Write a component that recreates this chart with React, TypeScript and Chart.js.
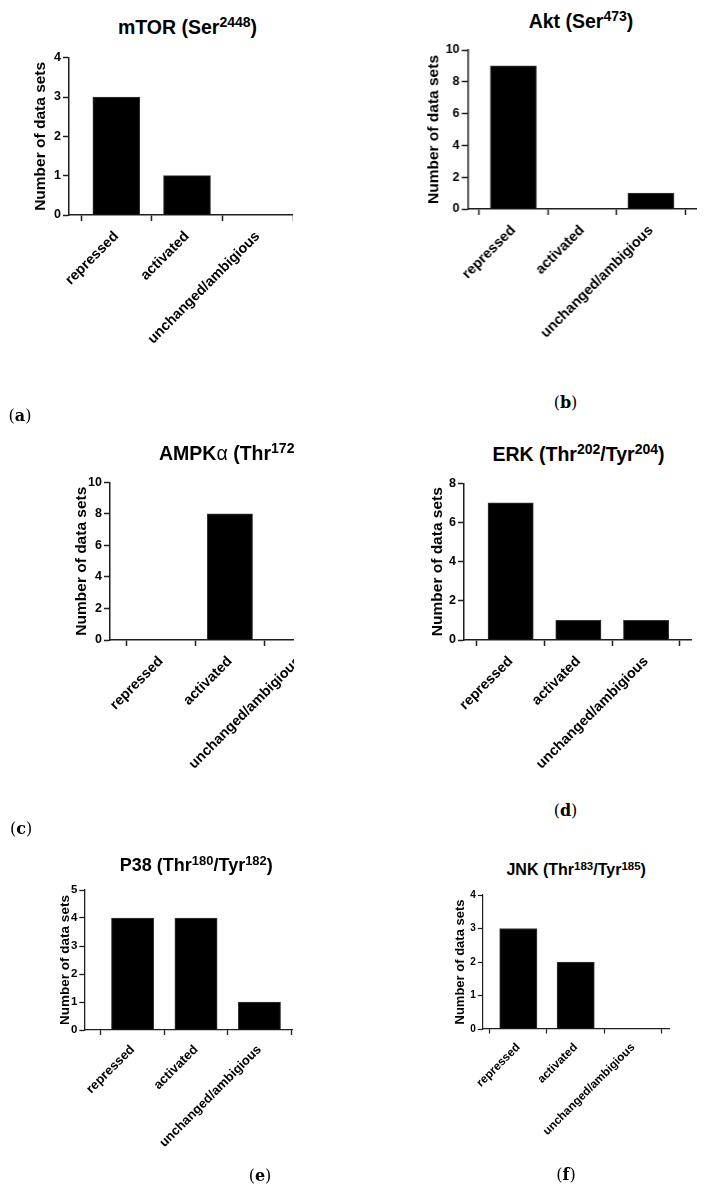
import React, { useEffect, useRef } from "react";
import { Chart, registerables } from "chart.js";

Chart.register(...registerables);

const FONT = "'Liberation Sans', Arial, Helvetica, sans-serif";
const SERIF = "'DejaVu Serif', 'Liberation Serif', serif";

// ---- data ----
const categories = ["repressed", "activated", "unchanged/ambigious"];
const yAxisTitle = "Number of data sets";

const mtorValues = [3, 1, 0];
const aktValues = [9, 0, 1];
const ampkValues = [0, 8, 0];
const erkValues = [7, 1, 1];
const p38Values = [4, 4, 1];
const jnkValues = [3, 2, 0];

const mtorTicks = [0, 1, 2, 3, 4];
const aktTicks = [0, 2, 4, 6, 8, 10];
const ampkTicks = [0, 2, 4, 6, 8, 10];
const erkTicks = [0, 2, 4, 6, 8];
const p38Ticks = [0, 1, 2, 3, 4, 5];
const jnkTicks = [0, 1, 2, 3, 4];

// ---- layout (page pixel geometry, not data) ----
type Layout = {
  cl: number; ct: number; yAxisX: number; yTop: number; yZero: number; xEnd: number;
  xMin: number; xMax: number; barW: number; yTitleX: number;
  titleCx: number; titleBase: number; titleFs: number;
  yTitleFs: number; tickFs: number; xLabFs: number; xH: number;
  lineW: number; tickLen: number; xPad: number; clip?: number;
};

const layoutA: Layout = { cl: 0, ct: 40, yAxisX: 69, yTop: 57.7, yZero: 215, xEnd: 293.3, xMin: -0.67, xMax: 2.5, barW: 47, yTitleX: 41, titleCx: 187.5, titleBase: 35, titleFs: 19.5, yTitleFs: 15.5, tickFs: 12.5, xLabFs: 14.3, xH: 160, lineW: 1.5, tickLen: 6, xPad: 7 };
const layoutB: Layout = { cl: 354, ct: 35, yAxisX: 467.3, yTop: 50, yZero: 209, xEnd: 696.7, xMin: -0.664, xMax: 2.669, barW: 46, yTitleX: 433.5, titleCx: 581, titleBase: 29, titleFs: 19.5, yTitleFs: 15.5, tickFs: 12.5, xLabFs: 14.3, xH: 160, lineW: 1.5, tickLen: 6, xPad: 7 };
const layoutC: Layout = { cl: 0, ct: 470, yAxisX: 110, yTop: 482.3, yZero: 640, xEnd: 345, xMin: -0.74, xMax: 2.67, barW: 45.3, yTitleX: 81.7, titleCx: 230, titleBase: 461, titleFs: 19.5, yTitleFs: 15.5, tickFs: 12.5, xLabFs: 14.3, xH: 160, lineW: 1.5, tickLen: 6, xPad: 7, clip: 294 };
const layoutD: Layout = { cl: 354, ct: 470, yAxisX: 464, yTop: 483.3, yZero: 640, xEnd: 692.3, xMin: -0.689, xMax: 2.678, barW: 45.3, yTitleX: 437.5, titleCx: 578.5, titleBase: 461.7, titleFs: 19.5, yTitleFs: 15.5, tickFs: 12.5, xLabFs: 14.3, xH: 160, lineW: 1.5, tickLen: 6, xPad: 7 };
const layoutE: Layout = { cl: 0, ct: 880, yAxisX: 84.3, yTop: 890, yZero: 1030, xEnd: 293.3, xMin: -0.762, xMax: 2.53, barW: 42.3, yTitleX: 65.3, titleCx: 196.3, titleBase: 871.7, titleFs: 18, yTitleFs: 13.5, tickFs: 11.5, xLabFs: 13, xH: 140, lineW: 1.3, tickLen: 5, xPad: 7 };
const layoutF: Layout = { cl: 354, ct: 885, yAxisX: 482.3, yTop: 895, yZero: 1029, xEnd: 670, xMin: -0.628, xMax: 2.645, barW: 37.3, yTitleX: 460.5, titleCx: 576.2, titleBase: 876, titleFs: 16, yTitleFs: 13, tickFs: 10, xLabFs: 11.7, xH: 130, lineW: 1.2, tickLen: 4.5, xPad: 7 };

const sup = (t: string) => (
  <span style={{ fontSize: "0.72em", position: "relative", top: "-0.5em" }}>{t}</span>
);

function BarPanel({ lay, values, yTicks, title }: { lay: Layout; values: number[]; yTicks: number[]; title: React.ReactNode }) {
  const ref = useRef<HTMLCanvasElement | null>(null);
  const W = lay.xEnd - lay.cl;
  const H = lay.yZero - lay.ct + lay.xH;
  useEffect(() => {
    if (!ref.current) return;
    const axisColor = "#1e1e1e";
    const lh = lay.yTitleFs * 1.2;
    const chart = new Chart(ref.current, {
      type: "bar",
      data: {
        datasets: [
          {
            data: values.map((v, i) => ({ x: i, y: v })),
            backgroundColor: "#000000",
            borderColor: "#3a3a3a",
            borderWidth: 1,
            barThickness: lay.barW,
          } as any,
        ],
      },
      options: {
        animation: false,
        responsive: false,
        maintainAspectRatio: false,
        devicePixelRatio: 1,
        layout: { padding: { top: lay.yTop - lay.ct, left: 0, right: 0, bottom: 0 } },
        plugins: { legend: { display: false }, tooltip: { enabled: false }, title: { display: false } },
        scales: {
          x: {
            type: "linear",
            min: lay.xMin,
            max: lay.xMax,
            offset: false,
            afterBuildTicks: (s: any) => {
              s.ticks = categories.map((_, i) => ({ value: i }));
            },
            afterFit: (s: any) => {
              s.height = lay.xH;
              s.paddingLeft = 0;
              s.paddingRight = 0;
              s.paddingTop = 0;
              s.paddingBottom = 0;
            },
            ticks: {
              autoSkip: false,
              minRotation: 45,
              maxRotation: 45,
              color: "#000",
              padding: lay.xPad,
              font: { family: FONT, weight: "bold", size: lay.xLabFs },
              callback: (v: any) => categories[v as number] ?? "",
            },
            grid: { drawOnChartArea: false, drawTicks: true, tickLength: lay.tickLen, tickWidth: lay.lineW, tickColor: axisColor },
            border: { display: true, color: axisColor, width: lay.lineW },
          },
          y: {
            min: 0,
            max: yTicks[yTicks.length - 1],
            afterBuildTicks: (s: any) => {
              s.ticks = yTicks.map((v) => ({ value: v }));
            },
            afterFit: (s: any) => {
              s.width = lay.yAxisX - lay.cl;
              s.paddingTop = 0;
              s.paddingBottom = 0;
              s.paddingLeft = 0;
              s.paddingRight = 0;
            },
            ticks: {
              color: "#000",
              padding: 2,
              font: { family: FONT, weight: "bold", size: lay.tickFs },
            },
            grid: { drawOnChartArea: false, drawTicks: true, tickLength: lay.tickLen, tickWidth: lay.lineW, tickColor: axisColor },
            border: { display: true, color: axisColor, width: lay.lineW },
            title: {
              display: true,
              text: yAxisTitle,
              color: "#000",
              font: { family: FONT, weight: "bold", size: lay.yTitleFs },
              padding: { top: lay.yTitleX - lay.cl - lh / 2, bottom: 0 },
            },
          },
        },
      } as any,
    });
    return () => chart.destroy();
  }, []);

  const off = lay.clip !== undefined ? lay.cl : 0;
  const titleTop = lay.titleBase - 0.8465 * lay.titleFs;
  const inner = (
    <>
      <canvas
        ref={ref}
        width={W}
        height={H}
        style={{ position: "absolute", left: lay.cl - off, top: lay.ct, width: W, height: H }}
      />
      <div
        style={{
          position: "absolute",
          left: lay.titleCx - off,
          top: titleTop,
          transform: "translateX(-50%)",
          whiteSpace: "nowrap",
          fontFamily: FONT,
          fontWeight: "bold",
          fontSize: lay.titleFs,
          lineHeight: 1,
          color: "#000",
        }}
      >
        {title}
      </div>
    </>
  );
  if (lay.clip !== undefined) {
    return (
      <div style={{ position: "absolute", left: lay.cl, top: 0, width: lay.clip - lay.cl, height: 1193, overflow: "hidden" }}>
        {inner}
      </div>
    );
  }
  return inner;
}

function PanelLabel({ letter, cx, cy }: { letter: string; cx: number; cy: number }) {
  return (
    <div
      style={{
        position: "absolute",
        left: cx,
        top: cy,
        transform: "translate(-50%, -50%)",
        fontFamily: SERIF,
        fontSize: 16,
        lineHeight: 1,
        color: "#000",
        whiteSpace: "nowrap",
      }}
    >
      (<b>{letter}</b>)
    </div>
  );
}

export default function App() {
  return (
    <div style={{ position: "absolute", left: 0, top: 0, width: 709, height: 1193, background: "#fff", overflow: "hidden" }}>
      <BarPanel lay={layoutA} values={mtorValues} yTicks={mtorTicks} title={<>mTOR (Ser{sup("2448")})</>} />
      <BarPanel lay={layoutB} values={aktValues} yTicks={aktTicks} title={<>Akt (Ser{sup("473")})</>} />
      <BarPanel
        lay={layoutC}
        values={ampkValues}
        yTicks={ampkTicks}
        title={<>AMPK<span style={{ fontWeight: "normal" }}>α</span> (Thr{sup("172")})</>}
      />
      <BarPanel lay={layoutD} values={erkValues} yTicks={erkTicks} title={<>ERK (Thr{sup("202")}/Tyr{sup("204")})</>} />
      <BarPanel lay={layoutE} values={p38Values} yTicks={p38Ticks} title={<>P38 (Thr{sup("180")}/Tyr{sup("182")})</>} />
      <BarPanel lay={layoutF} values={jnkValues} yTicks={jnkTicks} title={<>JNK (Thr{sup("183")}/Tyr{sup("185")})</>} />
      <PanelLabel letter="a" cx={20} cy={416} />
      <PanelLabel letter="b" cx={565.5} cy={403} />
      <PanelLabel letter="c" cx={21} cy={829} />
      <PanelLabel letter="d" cx={565.5} cy={811} />
      <PanelLabel letter="e" cx={260} cy={1176} />
      <PanelLabel letter="f" cx={566} cy={1175} />
    </div>
  );
}
